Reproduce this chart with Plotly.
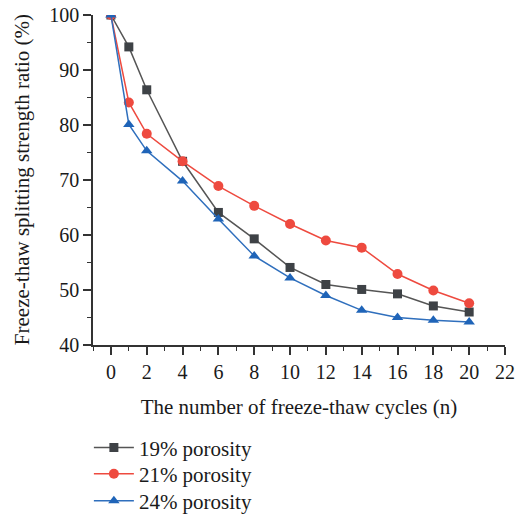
import plotly.graph_objects as go

cycles = [0, 1, 2, 4, 6, 8, 10, 12, 14, 16, 18, 20]
p19 = [100, 94.2, 86.4, 73.4, 64.1, 59.3, 54.1, 51.0, 50.1, 49.3, 47.1, 46.0]
p21 = [100, 84.1, 78.4, 73.4, 68.9, 65.3, 62.0, 59.0, 57.7, 52.9, 49.9, 47.6]
p24 = [100, 80.1, 75.3, 69.8, 62.9, 56.2, 52.2, 49.0, 46.3, 45.0, 44.5, 44.2]
names = ["19% porosity", "21% porosity", "24% porosity"]
x_ticks = list(range(0, 23, 2))
y_ticks = list(range(40, 101, 10))

FONT = "Liberation Serif"
TXT = "#1a1a1a"
fig = go.Figure()
styles = [
    (p19, "#555555", "#3e4246", "square", 9, "legend"),
    (p21, "#ee4a3f", "#ee4a3f", "circle", 10, "legend2"),
    (p24, "#2f6fbd", "#1f64b8", "triangle-up", 10, "legend3"),
]
for (vals, lc, mc, sym, sz, lg), nm in zip(styles, names):
    fig.add_trace(go.Scatter(
        x=cycles, y=vals, name=nm, mode="lines+markers",
        line=dict(color=lc, width=1.5),
        marker=dict(symbol=sym, size=sz, color=mc),
        legend=lg,
    ))

axis_common = dict(
    showline=True, linecolor="#333333", linewidth=1.5,
    ticks="outside", ticklen=8, tickwidth=1.5, tickcolor="#333333",
    showgrid=False, zeroline=False, automargin=False,
    tickfont=dict(family=FONT, size=20, color=TXT),
)
fig.update_xaxes(
    range=[-1, 22], tickvals=x_ticks,
    minor=dict(dtick=1, tick0=0, ticks="outside", ticklen=4, tickwidth=1.2, tickcolor="#333333"),
    title=dict(text="The number of freeze-thaw cycles (n)", font=dict(family=FONT, size=21, color=TXT), standoff=18),
    **axis_common,
)
fig.update_yaxes(
    range=[40, 100], tickvals=y_ticks,
    minor=dict(dtick=5, tick0=0, ticks="outside", ticklen=4, tickwidth=1.2, tickcolor="#333333"),
    **axis_common,
)
fig.add_annotation(
    text="Freeze-thaw splitting strength ratio (%)", textangle=-90,
    xref="paper", yref="paper", x=-0.172, y=0.5, xanchor="center", yanchor="middle",
    showarrow=False, font=dict(family=FONT, size=21, color=TXT),
)
leg_common = dict(x=-0.01, xanchor="left", yanchor="middle",
                  font=dict(family=FONT, size=21, color=TXT),
                  bgcolor="rgba(0,0,0,0)", itemwidth=40)
fig.update_layout(
    width=517, height=516,
    margin=dict(l=93, r=12, t=15, b=171, autoexpand=False),
    plot_bgcolor="white", paper_bgcolor="white",
    legend=dict(y=-0.312, **leg_common),
    legend2=dict(y=-0.391, **leg_common),
    legend3=dict(y=-0.473, **leg_common),
    showlegend=True,
)
fig.write_html("out.html", config={"displayModeBar": False},
               post_script="document.body.style.margin='0';")
